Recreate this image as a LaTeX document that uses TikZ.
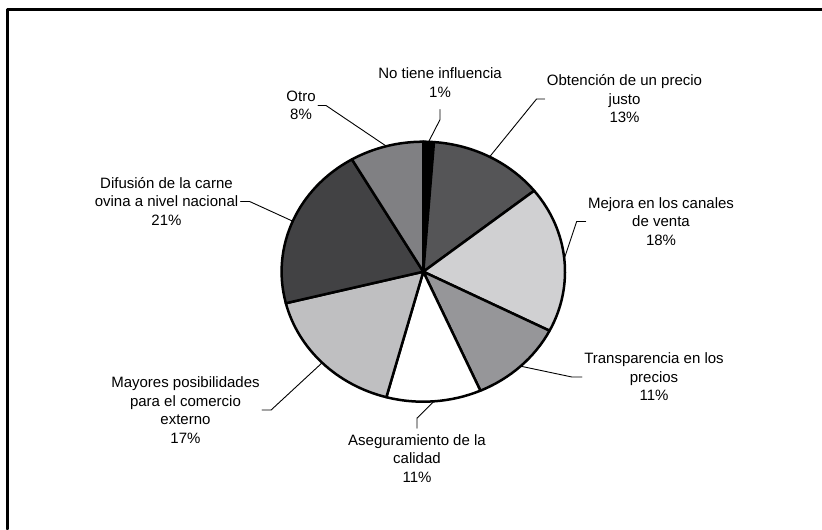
\documentclass[tikz,border=0pt]{standalone}
\usepackage{fontspec}
\setmainfont{Liberation Sans}
\definecolor{gObt}{RGB}{85,85,87}
\definecolor{gMej}{RGB}{208,208,210}
\definecolor{gTra}{RGB}{150,150,153}
\definecolor{gMay}{RGB}{191,191,193}
\definecolor{gDif}{RGB}{66,66,68}
\definecolor{gOtr}{RGB}{128,128,131}
\begin{document}
\begin{tikzpicture}[x=0.5pt, y=0.5pt, line join=round, line cap=round,
    font=\fontsize{7.5pt}{9.25pt}\selectfont,
    rotulo/.style={align=center, inner sep=1pt},
    guia/.style={line width=0.45pt}]
    \useasboundingbox (0,0) rectangle (822,529);
    \def \rx{141.7} % radio horizontal
    \def \ry{130}
    \coordinate (O) at (423.3,257.3);
    \draw[line width=1.5pt] (7,0) -- (7,519.5) -- (822,519.5);
    % sectores
    \foreach \ai/\af/\mau in {90/85.68/black, 85.68/38.52/gObt, 38.52/-27/gMej, -27/-66.24/gTra, -66.24/-105.12/white, -105.12/-165.96/gMay, -165.96/-239.76/gDif, -239.76/-270/gOtr}
        \filldraw[fill=\mau, line width=1.25pt] (O) -- ++(\ai:{\rx} and {\ry}) arc[start angle=\ai, end angle=\af, x radius=\rx, y radius=\ry] -- cycle;
    \node[rotulo] (No) at (440,446.5) {No tiene influencia\\1\%};
    \node[rotulo] (Obt) at (624.5,430) {Obtención de un precio\\justo\\13\%};
    \node[rotulo] (Mej) at (661,307.5) {Mejora en los canales\\de venta\\18\%};
    \node[rotulo] (Tra) at (654,152) {Transparencia en los\\precios\\11\%};
    \node[rotulo] (Ase) at (417,70.5) {Aseguramiento de la\\calidad\\11\%};
    \node[rotulo] (May) at (185.5,119) {Mayores posibilidades\\para el comercio\\externo\\17\%};
    \node[rotulo] (Dif) at (166.5,327.5) {Difusión de la carne\\ovina a nivel nacional\\21\%};
    \node[rotulo] (Otr) at (301,423.5) {Otro\\8\%};
    % puntos del borde
    \foreach \goc/\ten in {87.84/No, 62.1/Obt, 5.76/Mej, -46.62/Tra, -85.68/Ase, -135.54/May, 157.14/Dif, 105.12/Otr}
        \path (O) ++(\goc:{\rx} and {\ry}) coordinate (e\ten);
    \draw[guia] ([yshift=-5pt]No.south) -- ++(0,-10) -- (eNo);
    \draw[guia] (Otr.east) -- ++(8,0) -- (eOtr);
    \draw[guia] (Obt.west) -- ++(-8,0) -- (eObt);
    \draw[guia] (Mej.west) -- ++(-9,0) -- (eMej);
    \draw[guia] (Tra.west) -- ++(-10,0) -- (eTra);
    \draw[guia] ([yshift=2pt]Ase.north) -- ++(0,10) -- (eAse);
    \draw[guia] (May.east) -- ++(9,0) -- (eMay);
    \draw[guia] (Dif.east) -- ++(9,0) -- (eDif);
\end{tikzpicture}
\end{document}
